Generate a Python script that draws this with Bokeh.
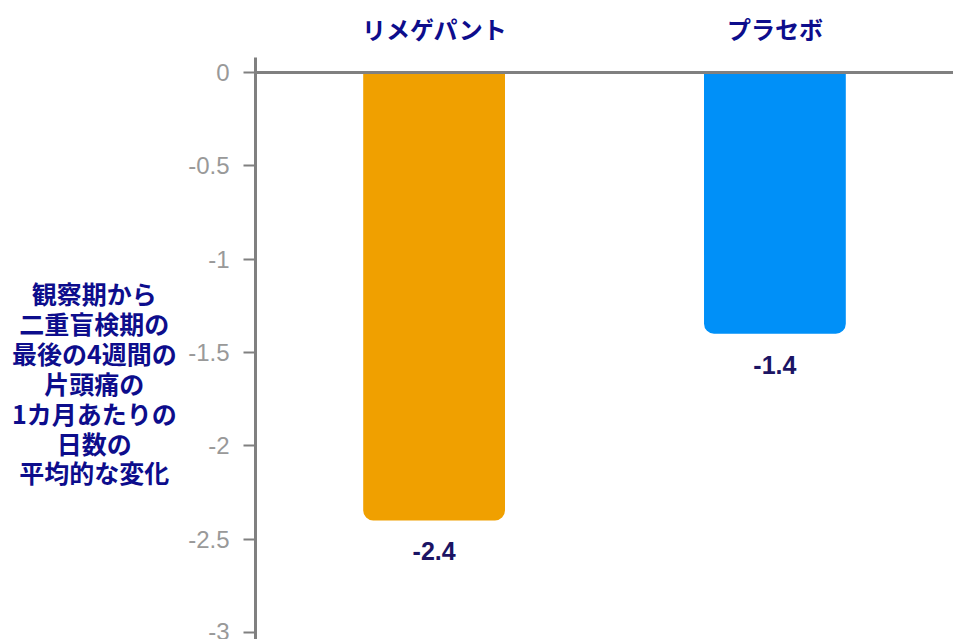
from bokeh.plotting import figure
from bokeh.layouts import row
from bokeh.models import ColumnDataSource, FactorRange, Range1d, Span, FixedTicker
from bokeh.embed import file_html
from bokeh.resources import INLINE
from bokeh.core.properties import value

categories = ["リメゲパント", "プラセボ"]
values = [-2.4, -1.4]
value_labels = ["-2.4", "-1.4"]
colors = ["#F0A000", "#0090F8"]
y_ticks = [0, -0.5, -1, -1.5, -2, -2.5, -3]
y_title = "観察期から\n二重盲検期の\n最後の4週間の\n片頭痛の\n1カ月あたりの\n日数の\n平均的な変化"

src = ColumnDataSource(dict(cat=categories, val=values, lab=value_labels, col=colors))

# left panel holding the y-axis title
t = figure(width=184, height=639, output_backend="svg", toolbar_location=None,
           x_range=Range1d(0, 1), y_range=Range1d(0, 1),
           min_border_left=0, min_border_right=0, min_border_top=0, min_border_bottom=0)
t.axis.visible = False
t.grid.grid_line_color = None
t.outline_line_color = None
t.text(x=[0.51], y=[0.441], text=[y_title], text_align="center", text_baseline="middle",
       text_font=value("Noto Sans CJK JP"), text_font_style="bold", text_font_size="25px",
       text_color="#0D0D8C", text_line_height=0.83)

p = figure(width=769, height=639, output_backend="svg", toolbar_location=None,
           x_range=FactorRange(*categories, range_padding=0.024),
           y_range=Range1d(-3.0375, 0.08),
           x_axis_location="above",
           min_border_left=71, min_border_right=0, min_border_top=57, min_border_bottom=0)
p.outline_line_color = None
p.grid.grid_line_color = None
p.background_fill_color = "white"

p.vbar(x="cat", top=0, bottom="val", width=0.416, fill_color="col", line_color=None,
       border_radius=(0, 0, 10, 10), source=src)

p.text(x="cat", y="val", text="lab", y_offset=31, text_align="center", text_baseline="middle",
       text_font=value("Liberation Sans"), text_font_style="bold", text_font_size="25px",
       text_color="#1B1464", source=src)

p.add_layout(Span(location=0, dimension="width", line_color="#808080", line_width=3))

xa = p.xaxis[0]
xa.axis_line_color = None
xa.major_tick_line_color = None
xa.minor_tick_line_color = None
xa.major_label_standoff = 6
xa.major_label_text_font = "Noto Sans CJK JP"
xa.major_label_text_font_style = "bold"
xa.major_label_text_font_size = "24px"
xa.major_label_text_color = "#0D0D8C"

ya = p.yaxis[0]
ya.ticker = FixedTicker(ticks=y_ticks)
ya.major_label_overrides = {t_: str(t_) for t_ in y_ticks}
ya.axis_line_color = "#808080"
ya.axis_line_width = 3
ya.major_tick_line_color = "#808080"
ya.major_tick_line_width = 2
ya.major_tick_out = 12
ya.major_tick_in = 0
ya.minor_tick_line_color = None
ya.major_label_standoff = 14
ya.major_label_text_font = "Liberation Sans"
ya.major_label_text_font_size = "24px"
ya.major_label_text_color = "#999999"

layout = row(t, p, spacing=0)
open("out.html", "w").write(file_html(layout, INLINE))
